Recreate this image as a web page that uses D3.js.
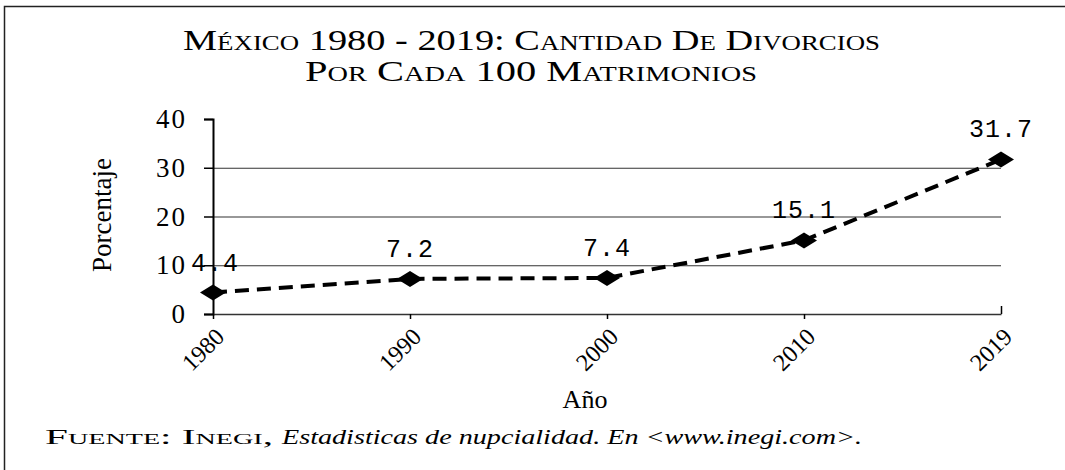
<!DOCTYPE html>
<html>
<head>
<meta charset="utf-8">
<script src="https://cdn.jsdelivr.net/npm/d3@7"></script>
<style>
  body { margin: 0; background: #fff; }
  svg { display: block; }
  text { font-family: "Liberation Serif", "DejaVu Serif", serif; fill: #000; }
</style>
</head>
<body>
<svg id="chart"></svg>
<script>
const years = ["1980", "1990", "2000", "2010", "2019"];
const divorces = [4.4, 7.2, 7.4, 15.1, 31.7];
const yTicks = [0, 10, 20, 30, 40];
const gridValues = [10, 20, 30];

const margin = { top: 119, right: 64, bottom: 156, left: 213 };
const W = 1065, H = 470;
const width = W - margin.left - margin.right;
const height = H - margin.top - margin.bottom;

const root = d3.select("#chart")
    .attr("width", W)
    .attr("height", H);

// frame (top and left edges only)
root.append("path")
    .attr("d", "M4.5,470 L4.5,6.5 L1065,6.5")
    .attr("fill", "none")
    .attr("stroke", "#222")
    .attr("stroke-width", 1.5);

const svg = root.append("g")
    .attr("transform", "translate(" + margin.left + "," + margin.top + ")");

const xScale = d3.scalePoint().domain(years).range([0, width]);
const yScale = d3.scaleLinear().domain([0, 40]).range([height, 0]);

// gridlines
svg.selectAll(".grid")
    .data(gridValues)
    .enter().append("line")
    .attr("class", "grid")
    .attr("x1", 0)
    .attr("x2", width)
    .attr("y1", d => yScale(d) + 0.5)
    .attr("y2", d => yScale(d) + 0.5)
    .attr("stroke", "#333")
    .attr("stroke-width", 1.2);

// y axis
const yAxis = d3.axisLeft(yScale).tickValues(yTicks).tickSize(9).tickPadding(17);
const yG = svg.append("g").call(yAxis)
    .attr("font-family", "'Liberation Serif', serif")
    .attr("font-size", 27);
yG.select(".domain").attr("stroke", "#000").attr("stroke-width", 2);
yG.selectAll(".tick line").attr("stroke", "#000").attr("stroke-width", 1.5);
yG.selectAll(".tick text")
    .attr("fill", "#000")
    .style("letter-spacing", "2px");

// x axis
const xAxis = d3.axisBottom(xScale).tickSizeInner(5).tickSizeOuter(0).tickPadding(8);
const xG = svg.append("g")
    .attr("transform", "translate(0," + height + ")")
    .call(xAxis)
    .attr("font-family", "'Liberation Serif', serif")
    .attr("font-size", 24);
xG.select(".domain").attr("stroke", "#333").attr("stroke-width", 1.3);
xG.selectAll(".tick line").attr("stroke", "#000").attr("stroke-width", 1.5)
    .attr("y1", (d, i) => i === years.length - 1 ? -8 : 0)
    .attr("y2", (d, i) => i === years.length - 1 ? 0 : 5);
xG.selectAll(".tick text")
    .attr("fill", "#000")
    .attr("text-anchor", "end")
    .attr("dy", "0")
    .attr("transform", "translate(3,15) rotate(-45)");

// dashed line
const line = d3.line()
    .x((d, i) => xScale(years[i]))
    .y(d => yScale(d));

svg.append("path")
    .datum(divorces)
    .attr("d", line)
    .attr("fill", "none")
    .attr("stroke", "#000")
    .attr("stroke-width", 4)
    .attr("stroke-dasharray", "14,8");

// diamond markers
svg.selectAll(".marker")
    .data(divorces)
    .enter().append("path")
    .attr("class", "marker")
    .attr("d", "M-13,0 L0,-8 L13,0 L0,8 Z")
    .attr("transform", (d, i) => "translate(" + xScale(years[i]) + "," + yScale(d) + ")")
    .attr("fill", "#000");

// value labels
svg.selectAll(".label")
    .data(divorces)
    .enter().append("text")
    .attr("class", "label")
    .attr("x", (d, i) => xScale(years[i]) + (i === 0 ? 2 : 0))
    .attr("y", d => yScale(d) - 22)
    .attr("text-anchor", "middle")
    .style("font-family", "'Liberation Mono', monospace")
    .style("font-size", "25px")
    .style("letter-spacing", "1px")
    .text(d => d.toFixed(1));

// titles
root.append("text")
    .attr("x", 183)
    .attr("y", 50)
    .attr("textLength", 697)
    .attr("lengthAdjust", "spacingAndGlyphs")
    .style("font-size", "30px")
    .style("font-variant", "small-caps")
    .text("México 1980 - 2019: Cantidad De Divorcios");
root.append("text")
    .attr("x", 305)
    .attr("y", 81)
    .attr("textLength", 452)
    .attr("lengthAdjust", "spacingAndGlyphs")
    .style("font-size", "30px")
    .style("font-variant", "small-caps")
    .text("Por Cada 100 Matrimonios");

root.append("text")
    .attr("transform", "translate(111,215) rotate(-90)")
    .attr("text-anchor", "middle")
    .style("font-size", "27px")
    .text("Porcentaje");

root.append("text")
    .attr("x", 585)
    .attr("y", 408)
    .attr("text-anchor", "middle")
    .style("font-size", "26px")
    .text("Año");

root.append("text")
    .attr("x", 45)
    .attr("y", 444)
    .attr("textLength", 228)
    .attr("lengthAdjust", "spacingAndGlyphs")
    .style("font-size", "22px")
    .style("font-variant", "small-caps")
    .text("Fuente: Inegi,");
root.append("text")
    .attr("x", 282)
    .attr("y", 444)
    .attr("textLength", 580)
    .attr("lengthAdjust", "spacingAndGlyphs")
    .style("font-size", "22px")
    .style("font-style", "italic")
    .text("Estadisticas de nupcialidad. En <www.inegi.com>.");
</script>
</body>
</html>
